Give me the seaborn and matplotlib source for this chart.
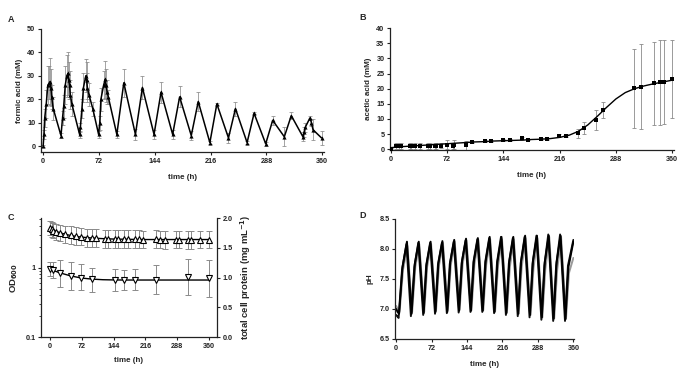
import numpy as np
import matplotlib
matplotlib.use("Agg")
import matplotlib.pyplot as plt
from matplotlib.ticker import LogLocator, NullFormatter, FixedLocator
import seaborn as sns

# ---- panel A: formic acid (mM) ----
formic_t = [0, 1, 2, 4, 6, 8, 9, 10, 11, 13,
            23, 25, 26.5, 28.5, 30.5, 32, 33, 34, 35, 37,
            47, 48, 50, 52, 55, 56, 57, 59, 64,
            71.5, 73, 74.5, 78, 80, 81, 82.5, 84,
            95, 104, 119, 128, 143, 152, 167, 176, 191, 200, 215, 224, 239, 248,
            263, 272, 287, 296, 311, 320, 335,
            336.5, 338, 344, 346, 348, 359]
formic_v = [0, 5, 12, 18, 26, 27, 27.5, 25, 21, 16,
            4.5, 12, 17, 26, 30, 31, 28, 26, 22, 18,
            5, 8, 16, 25, 30, 28, 25, 22, 16,
            5, 10, 20, 26, 28.5, 26, 23, 21,
            5, 27, 5, 25, 5, 23, 5, 21, 4.5, 19, 1.5, 18, 3.5, 16,
            1.5, 14, 1, 11, 4, 13, 4,
            6, 8, 12, 10, 7, 3.5]
formic_err = [0.5, 2, 4, 6, 8, 7, 10, 8, 5, 5,
              1, 3, 5, 8, 9, 9, 8, 6, 6, 5,
              1.5, 2, 4, 6, 7, 8, 6, 5, 3,
              1.5, 3, 5, 6, 8, 7, 5, 3,
              1.5, 6, 2.5, 5, 2, 4.5, 2, 4.5, 2, 4, 0.5, 0.5, 2, 3,
              0.5, 0.5, 0.8, 2, 4, 1.5, 2,
              2, 2, 1, 1.5, 4.5, 3]

# ---- panel B: acetic acid (mM) ----
acetic_t = [0, 7, 10, 13, 24, 26, 31, 37, 48, 50,
            56, 58, 64, 72, 79, 81, 96, 104, 120, 128,
            144, 152, 168, 176, 192, 200, 215, 224, 239, 247,
            263, 272, 311, 320, 337, 344, 349, 360]
acetic_v = [0.2, 1.0, 1.1, 1.2, 1.0, 1.0, 1.0, 1.0, 1.1, 1.2,
            1.2, 1.2, 1.1, 1.5, 1.2, 1.5, 1.3, 2.5, 2.8, 2.8,
            3.0, 3.0, 3.6, 3.2, 3.5, 3.5, 4.4, 4.5, 5.2, 7.1,
            9.7, 12.9, 20.1, 20.7, 21.8, 22.1, 22.2, 23.2]
acetic_err = [0.3, 1, 1, 1, 1, 1, 1, 1, 1, 1,
              1, 1, 0.8, 1.5, 1, 1.5, 1.5, 0.3, 0.3, 0.3,
              0.3, 0.3, 0.5, 0.3, 0.3, 0.3, 0.5, 0.4, 1.5, 2.0,
              3.2, 2.7, 13, 14, 13.7, 14, 14, 13]
acetic_fit_t = [0, 12, 24, 36, 48, 60, 72, 84, 96, 108, 120, 132, 144, 156, 168, 180,
                192, 204, 216, 228, 240, 252, 264, 276, 288, 300, 312, 324, 336, 348, 360]
acetic_fit = [0.5, 0.8, 1.0, 1.2, 1.4, 1.6, 1.8, 2.0, 2.2, 2.4, 2.5, 2.7, 2.8, 2.9, 3.0, 3.2,
              3.3, 3.5, 3.9, 4.6, 5.9, 8.0, 10.8, 13.8, 16.6, 18.7, 20.0, 20.9, 21.6, 22.2, 22.8]

# ---- panel C: OD600 (log, left) and total cell protein (right) ----
od_t = [0, 7.5, 23, 47, 71.5, 96, 147, 168, 192, 239.5, 312, 360]
od_v = [0.95, 0.92, 0.84, 0.75, 0.72, 0.68, 0.66, 0.66, 0.67, 0.67, 0.73, 0.71]
od_hi = [1.22, 1.2, 1.3, 1.2, 1.15, 1.0, 0.95, 0.93, 0.97, 1.08, 1.35, 1.3]
od_lo = [0.75, 0.72, 0.52, 0.47, 0.47, 0.45, 0.46, 0.48, 0.48, 0.42, 0.40, 0.38]
od_fit_t = [0, 24, 48, 72, 96, 120, 144, 168, 192, 216, 240, 264, 288, 312, 336, 360]
od_fit = [0.95, 0.84, 0.76, 0.71, 0.685, 0.672, 0.667, 0.665, 0.665, 0.665, 0.665,
          0.665, 0.665, 0.665, 0.665, 0.665]

prot_t = [0, 4, 8, 13, 24, 35, 47, 59, 71.5, 83, 96, 105, 124, 132, 147, 154, 168, 177,
          192, 202, 211, 239.5, 248, 261, 286, 292, 312, 318, 339, 360]
prot_v = [1.83, 1.81, 1.79, 1.77, 1.75, 1.73, 1.71, 1.70, 1.69, 1.67, 1.66, 1.66, 1.65, 1.65,
          1.645, 1.645, 1.65, 1.645, 1.645, 1.645, 1.64, 1.645, 1.64, 1.635, 1.64, 1.64,
          1.63, 1.635, 1.64, 1.64]
prot_err = [0.12, 0.12, 0.13, 0.13, 0.14, 0.14, 0.15, 0.15, 0.15, 0.15, 0.15, 0.15, 0.15, 0.15,
            0.15, 0.15, 0.15, 0.15, 0.15, 0.15, 0.15, 0.15, 0.15, 0.15, 0.15, 0.15,
            0.15, 0.15, 0.15, 0.15]
prot_fit_t = od_fit_t
prot_fit = [1.82, 1.75, 1.705, 1.68, 1.665, 1.655, 1.648, 1.645, 1.642, 1.64, 1.64,
            1.64, 1.64, 1.64, 1.64, 1.64]

# ---- panel D: pH, three replicates ----
ph1_t = [0, 3, 6, 13, 22, 31.5, 38, 46, 56, 62, 70, 80, 86, 94, 104, 110, 118, 128, 134, 142,
         152, 158, 166, 176, 182, 190, 200, 206, 214, 224, 230, 238, 248, 254, 262, 272, 278,
         286, 296, 302, 310, 320, 326, 334, 344, 350, 360]
ph1 = [7.0, 6.95, 6.92, 7.7, 8.12, 6.92, 7.75, 8.12, 6.93, 7.75, 8.12, 6.95, 7.77, 8.13,
       6.95, 7.78, 8.15, 6.97, 7.8, 8.17, 6.97, 7.8, 8.18, 6.97, 7.8, 8.2, 6.95, 7.8, 8.2,
       6.93, 7.8, 8.2, 6.92, 7.8, 8.22, 6.9, 7.8, 8.22, 6.86, 7.78, 8.22, 6.84, 7.78, 8.22,
       6.83, 7.7, 8.12]
ph2_t = [0, 2, 5, 12, 21, 30, 37, 45, 55, 61, 69, 79, 85, 93, 103, 109, 117, 127, 133, 141,
         151, 157, 165, 175, 181, 189, 199, 205, 213, 223, 229, 237, 247, 253, 261, 271, 277,
         285, 295, 301, 309, 319, 325, 333, 343, 349, 360]
ph2 = [6.9, 6.88, 6.85, 7.65, 8.08, 6.88, 7.7, 8.1, 6.9, 7.72, 8.1, 6.92, 7.74, 8.1,
       6.93, 7.75, 8.12, 6.94, 7.76, 8.14, 6.95, 7.78, 8.16, 6.95, 7.78, 8.18, 6.93, 7.78, 8.2,
       6.9, 7.76, 8.18, 6.88, 7.76, 8.2, 6.86, 7.75, 8.22, 6.82, 7.72, 8.24, 6.8, 7.72, 8.24,
       6.8, 7.72, 8.15]
ph3_t = [0, 3, 7, 14, 23, 32.5, 39, 47, 57, 63, 71, 81, 87, 95, 105, 111, 119, 129, 135, 143,
         153, 159, 167, 177, 183, 191, 201, 207, 215, 225, 231, 239, 249, 255, 263, 273, 279,
         287, 297, 303, 311, 321, 327, 335, 345, 351, 360]
ph3 = [7.05, 7.0, 6.95, 7.65, 8.05, 6.95, 7.7, 8.08, 6.95, 7.7, 8.08, 6.97, 7.72, 8.1,
       6.98, 7.73, 8.12, 6.99, 7.74, 8.14, 6.98, 7.74, 8.15, 6.98, 7.74, 8.16, 6.96, 7.72, 8.16,
       6.94, 7.7, 8.16, 6.92, 7.7, 8.18, 6.9, 7.68, 8.18, 6.86, 7.66, 8.2, 6.84, 7.64, 8.2,
       6.84, 7.6, 7.85]

time_ticks = [0, 72, 144, 216, 288, 360]

sns.set_style("ticks")
plt.rcParams["font.family"] = ["Liberation Sans", "DejaVu Sans"]
plt.rcParams["font.weight"] = "bold"
plt.rcParams["axes.labelweight"] = "bold"
plt.rcParams["mathtext.default"] = "bf"

TICK_FS = 5.2
LABEL_FS = 5.8
ERR_COLOR = "#8a8a8a"


def style_axes(ax):
    sns.despine(ax=ax)
    for side in ("left", "bottom"):
        ax.spines[side].set_linewidth(0.9)
        ax.spines[side].set_color("#222222")
    ax.tick_params(axis="both", labelsize=TICK_FS, width=0.8, length=2.5, pad=1.5,
                   colors="#222222")
    for lab in ax.get_xticklabels() + ax.get_yticklabels():
        lab.set_fontweight("bold")


fig = plt.figure(figsize=(6.92, 3.8), dpi=100)

# panel A
ax_a = fig.add_axes([0.059, 0.600, 0.409, 0.324])
ax_a.errorbar(formic_t, formic_v, yerr=formic_err, fmt="none", ecolor=ERR_COLOR,
              elinewidth=0.55, capsize=1.6, capthick=0.55, zorder=1)
sns.lineplot(x=formic_t, y=formic_v, ax=ax_a, color="black", linewidth=1.1,
             marker="^", markersize=3, markeredgewidth=0, zorder=3)
ax_a.set_xlim(-3, 362)
ax_a.set_ylim(-2.5, 50)
ax_a.set_xticks(time_ticks)
ax_a.set_yticks([0, 10, 20, 30, 40, 50])
ax_a.set_xlabel("time (h)", fontsize=LABEL_FS, labelpad=7)
ax_a.set_ylabel("formic acid (mM)", fontsize=LABEL_FS, labelpad=3)
style_axes(ax_a)

# panel B
ax_b = fig.add_axes([0.5636, 0.605, 0.41, 0.321])
ax_b.errorbar(acetic_t, acetic_v, yerr=acetic_err, fmt="none", ecolor=ERR_COLOR,
              elinewidth=0.6, capsize=1.6, capthick=0.6, zorder=1)
sns.lineplot(x=acetic_fit_t, y=acetic_fit, ax=ax_b, color="black", linewidth=1.0, zorder=2)
sns.scatterplot(x=acetic_t, y=acetic_v, ax=ax_b, color="black", marker="s", s=10,
                linewidth=0, zorder=3)
ax_b.set_xlim(-1, 362)
ax_b.set_ylim(-0.3, 40)
ax_b.set_xticks(time_ticks)
ax_b.set_yticks(range(0, 41, 5))
ax_b.set_xlabel("time (h)", fontsize=LABEL_FS, labelpad=7)
ax_b.set_ylabel("acetic acid (mM)", fontsize=LABEL_FS, labelpad=3)
style_axes(ax_b)

# panel C
ax_c = fig.add_axes([0.0592, 0.113, 0.254, 0.313])
ax_c.set_yscale("log")
od_err = [np.subtract(od_v, od_lo), np.subtract(od_hi, od_v)]
ax_c.errorbar(od_t, od_v, yerr=od_err, fmt="none", ecolor=ERR_COLOR,
              elinewidth=0.7, capsize=2.2, capthick=0.7, zorder=1)
sns.lineplot(x=od_fit_t, y=od_fit, ax=ax_c, color="black", linewidth=1.0, zorder=2)
ax_c.plot(od_t, od_v, linestyle="none", marker="v", markersize=4.2, markerfacecolor="white",
          markeredgecolor="black", markeredgewidth=0.8, zorder=3)
ax_c.set_xlim(-20, 377)
ax_c.set_ylim(0.1, 5.2)
ax_c.set_xticks(time_ticks)
ax_c.yaxis.set_major_locator(FixedLocator([0.1, 1]))
ax_c.set_yticklabels(["0.1", "1"])
ax_c.yaxis.set_minor_locator(LogLocator(base=10, subs=np.arange(2, 10)))
ax_c.yaxis.set_minor_formatter(NullFormatter())
ax_c.tick_params(axis="y", which="minor", length=1.5, width=0.6)
ax_c.set_xlabel("time (h)", fontsize=LABEL_FS, labelpad=5)
ax_c.set_ylabel("OD$_{600}$", fontsize=6.8, labelpad=4)
style_axes(ax_c)

ax_r = ax_c.twinx()
ax_r.errorbar(prot_t, prot_v, yerr=prot_err, fmt="none", ecolor=ERR_COLOR,
              elinewidth=0.7, capsize=2.2, capthick=0.7, zorder=1)
sns.lineplot(x=prot_fit_t, y=prot_fit, ax=ax_r, color="black", linewidth=1.0, zorder=2)
ax_r.plot(prot_t, prot_v, linestyle="none", marker="^", markersize=4.2,
          markerfacecolor="white", markeredgecolor="black", markeredgewidth=0.8, zorder=3)
ax_r.set_ylim(0, 2.0)
ax_r.set_xlim(-20, 377)
ax_r.set_yticks([0, 0.5, 1.0, 1.5, 2.0])
ax_r.set_yticklabels(["0.0", "0.5", "1.0", "1.5", "2.0"])
for side in ("top", "left", "bottom"):
    ax_r.spines[side].set_visible(False)
ax_r.spines["right"].set_linewidth(0.9)
ax_r.spines["right"].set_color("#222222")
ax_r.tick_params(axis="y", labelsize=TICK_FS, width=0.8, length=2.5, pad=1.5, colors="#222222")
ax_r.set_ylabel("total cell protein (mg mL$^{-1}$)", fontsize=6.8, labelpad=4)

# panel D
ax_d = fig.add_axes([0.571, 0.108, 0.259, 0.316])
sns.lineplot(x=ph3_t, y=ph3, ax=ax_d, color="#9a9a9a", linewidth=1.4, sort=False)
sns.lineplot(x=ph2_t, y=ph2, ax=ax_d, color="#111111", linewidth=1.4, sort=False)
sns.lineplot(x=ph1_t, y=ph1, ax=ax_d, color="black", linewidth=1.4, sort=False)
ax_d.set_xlim(-2, 362)
ax_d.set_ylim(6.5, 8.5)
ax_d.set_xticks(time_ticks)
ax_d.set_yticks([6.5, 7.0, 7.5, 8.0, 8.5])
ax_d.set_yticklabels(["6.5", "7.0", "7.5", "8.0", "8.5"])
ax_d.set_xlabel("time (h)", fontsize=LABEL_FS, labelpad=7)
ax_d.set_ylabel("pH", fontsize=LABEL_FS, labelpad=4)
style_axes(ax_d)

for letter, (x, y) in {"A": (8, 19), "B": (359, 18), "C": (8, 217), "D": (359, 216)}.items():
    fig.text(x / 692, 1 - y / 380, letter, fontsize=6.5, fontweight="bold",
             ha="left", va="center")

fig.savefig("out.png", dpi=100)
